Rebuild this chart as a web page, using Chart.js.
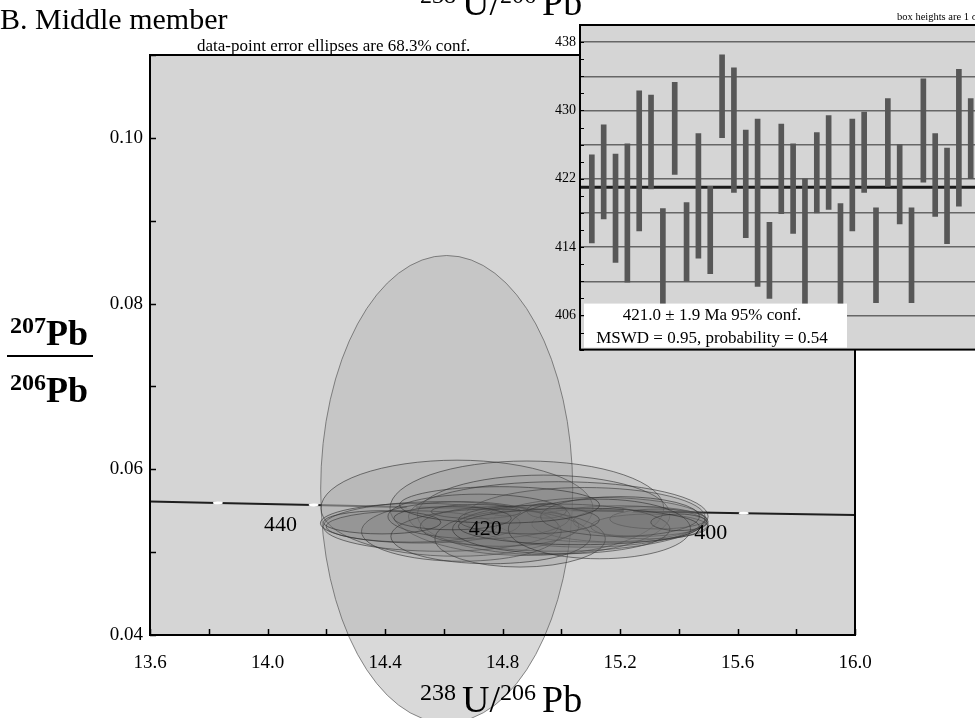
<!DOCTYPE html>
<html>
<head>
<meta charset="utf-8">
<script src="https://cdn.jsdelivr.net/npm/chart.js@4.4.1/dist/chart.umd.min.js"></script>
<style>
  html, body { margin: 0; padding: 0; background: #fff; overflow: hidden; }
  #wrap { position: relative; width: 975px; height: 718px; overflow: hidden; }
  #main { position: absolute; left: 0; top: 0; }
  #inset { position: absolute; left: 540px; top: 0; }
</style>
</head>
<body>
<div id="wrap">
  <canvas id="main" width="975" height="718"></canvas>
  <canvas id="inset" width="470" height="362"></canvas>
</div>
<script>
// ---- concordia plot data ----
const xLabelValues = [13.6, 14.0, 14.4, 14.8, 15.2, 15.6, 16.0];
const yLabelValues = [0.04, 0.06, 0.08, 0.10];

// concordia curve (ages in Ma where marked)
const concordiaX = [13.6, 13.831, 14.157, 14.490, 14.854, 15.229, 15.621, 16.0];
const concordiaY = [0.05612, 0.05594, 0.05569, 0.05541, 0.05519, 0.05494, 0.05470, 0.05447];
const concordiaAge = [null, 450, 440, 430, 420, 410, 400, null];
const labeledAges = [440, 420, 400];

// big ellipse
const bigEllipse = [14.61, 0.0576, 0.429, 0.0282];

// analyses: centre x, centre y, half-width x, half-height y
const ellX  = [14.645, 14.883, 14.94, 15.13, 15.20, 15.27, 15.30, 15.33, 15.08, 14.99, 14.59, 14.52, 14.66, 14.49, 14.72,
               14.79, 14.71, 14.81, 14.95, 14.86, 14.76, 15.00, 15.20, 14.89, 14.63, 14.39, 15.13, 15.40, 15.06, 14.79];
const ellY  = [0.0553, 0.0553, 0.0545, 0.0539, 0.0534, 0.0537, 0.0531, 0.0540, 0.0542, 0.0543, 0.0531, 0.0535, 0.0525, 0.0531, 0.0543,
               0.0531, 0.0549, 0.0548, 0.0550, 0.0516, 0.0519, 0.0528, 0.0543, 0.0539, 0.0541, 0.0536, 0.0528, 0.0536, 0.0531, 0.0557];
const ellRX = [0.463, 0.466, 0.43, 0.36, 0.30, 0.23, 0.20, 0.165, 0.41, 0.51, 0.40, 0.34, 0.34, 0.29, 0.31,
               0.27, 0.153, 0.051, 0.068, 0.29, 0.34, 0.37, 0.27, 0.24, 0.20, 0.20, 0.31, 0.095, 0.41, 0.34];
const ellRY = [0.0058, 0.0057, 0.0048, 0.0027, 0.0022, 0.0018, 0.0015, 0.0012, 0.0036, 0.0042, 0.0030, 0.0024, 0.0036, 0.0019, 0.0027,
               0.0024, 0.00085, 0.00042, 0.0009, 0.0034, 0.0033, 0.0030, 0.0024, 0.0017, 0.0014, 0.0014, 0.0036, 0.0010, 0.0022, 0.0022];

// ---- weighted mean inset data (Ma) ----
const barLow  = [414.5, 417.3, 412.2, 409.9, 415.9, 420.8, 405.5, 422.5, 410.0, 412.7, 410.9, 426.8, 420.4, 415.1, 409.4, 408.0, 417.9,
                 415.6, 405.0, 418.0, 418.4, 405.5, 415.9, 420.4, 407.5, 421.1, 416.7, 407.5, 421.6, 417.6, 414.4, 418.8, 422.0];
const barHigh = [424.8, 428.3, 424.9, 426.1, 432.3, 431.8, 418.5, 433.3, 419.2, 427.3, 421.1, 436.5, 435.0, 427.7, 429.0, 416.9, 428.4,
                 426.1, 422.0, 427.4, 429.4, 419.1, 429.0, 429.8, 418.6, 431.4, 426.0, 418.6, 433.7, 427.3, 425.6, 434.8, 431.4];
const insetLabelValues = [406, 414, 422, 430, 438];
const insetGridValues = [406, 410, 414, 418, 422, 426, 430, 434, 438];
const meanAge = 421.0;
const meanErr = 1.9;
const mswd = 0.95;
const probability = 0.54;

const SERIF = '"Liberation Serif", "Times New Roman", serif';
Chart.defaults.font.family = SERIF;
Chart.defaults.color = '#000';

const near = (v, list) => list.some(t => Math.abs(t - v) < 1e-6);

// draws something like 238U/206Pb
function drawRatio(ctx, x, base, parts, big, small, weight) {
  let cx = x;
  parts.forEach(p => {
    ctx.font = (weight || '') + ' ' + (p.sup ? small : big) + 'px ' + SERIF;
    ctx.fillText(p.t, cx, p.sup ? base - 12 : base);
    cx += ctx.measureText(p.t).width + (p.gap || 0);
  });
}

// concordia plot
const mainDecor = {
  id: 'mainDecor',
  beforeDraw(chart) {
    const {ctx, chartArea: a} = chart;
    ctx.save();
    ctx.fillStyle = '#d5d5d5';
    ctx.fillRect(a.left, a.top, a.right - a.left, a.bottom - a.top);
    ctx.restore();
  },
  afterDatasetsDraw(chart) {
    const {ctx, scales: {x, y}} = chart;
    ctx.save();
    // age marks on the concordia
    concordiaAge.forEach((age, i) => {
      if (age === null) return;
      const px = x.getPixelForValue(concordiaX[i]), py = y.getPixelForValue(concordiaY[i]);
      ctx.beginPath();
      ctx.ellipse(px, py, 5, 1.4, 0, 0, Math.PI * 2);
      ctx.fillStyle = '#fff';
      ctx.fill();
    });
    // error ellipses
    const ell = (cx, cy, rx, ry, fill, stroke) => {
      const px = x.getPixelForValue(cx), py = y.getPixelForValue(cy);
      const prx = Math.abs(x.getPixelForValue(cx + rx) - px);
      const pry = Math.abs(y.getPixelForValue(cy + ry) - py);
      ctx.beginPath();
      ctx.ellipse(px, py, prx, pry, 0, 0, Math.PI * 2);
      ctx.fillStyle = fill;
      ctx.fill();
      ctx.strokeStyle = stroke;
      ctx.lineWidth = 1;
      ctx.stroke();
    };
    ell(bigEllipse[0], bigEllipse[1], bigEllipse[2], bigEllipse[3], 'rgba(185,185,185,0.55)', 'rgba(90,90,90,0.7)');
    for (let i = 0; i < ellX.length; i++) {
      ell(ellX[i], ellY[i], ellRX[i], ellRY[i], 'rgba(115,115,115,0.15)', 'rgba(45,45,45,0.6)');
    }
    // age labels on top
    ctx.fillStyle = '#000';
    ctx.font = '22px ' + SERIF;
    ctx.textAlign = 'center';
    ctx.textBaseline = 'middle';
    concordiaAge.forEach((age, i) => {
      if (!labeledAges.includes(age)) return;
      const px = x.getPixelForValue(concordiaX[i]), py = y.getPixelForValue(concordiaY[i]);
      ctx.fillText(String(age), px - 33, py + 20);
    });
    ctx.restore();
  },
  afterDraw(chart) {
    const {ctx, chartArea: a, scales: {x, y}} = chart;
    ctx.save();
    // inward ticks
    ctx.strokeStyle = '#000';
    ctx.lineWidth = 1.5;
    x.ticks.forEach(t => {
      const px = Math.round(x.getPixelForValue(t.value)) + 0.5;
      ctx.beginPath(); ctx.moveTo(px, a.bottom); ctx.lineTo(px, a.bottom - 6); ctx.stroke();
    });
    y.ticks.forEach(t => {
      const py = Math.round(y.getPixelForValue(t.value)) + 0.5;
      ctx.beginPath(); ctx.moveTo(a.left, py); ctx.lineTo(a.left + 6, py); ctx.stroke();
    });
    // frame
    ctx.lineWidth = 2;
    ctx.strokeRect(a.left, a.top, a.right - a.left, a.bottom - a.top);

    // texts
    ctx.fillStyle = '#000';
    ctx.textAlign = 'left';
    ctx.textBaseline = 'alphabetic';
    ctx.font = '30px ' + SERIF;
    ctx.fillText('B. Middle member', 0, 29);
    ctx.font = '17px ' + SERIF;
    ctx.fillText('data-point error ellipses are 68.3% conf.', 197, 51);

    const ratio = [{t: '238', sup: true, gap: 6}, {t: 'U/'}, {t: '206', sup: true, gap: 6}, {t: 'Pb'}];
    drawRatio(ctx, 420, 15, ratio, 38, 24);
    drawRatio(ctx, 420, 712, ratio, 38, 24);

    drawRatio(ctx, 10, 345, [{t: '207', sup: true}, {t: 'Pb'}], 36, 24, 'bold');
    drawRatio(ctx, 10, 402, [{t: '206', sup: true}, {t: 'Pb'}], 36, 24, 'bold');
    ctx.lineWidth = 2;
    ctx.beginPath(); ctx.moveTo(7, 356); ctx.lineTo(93, 356); ctx.stroke();
    ctx.restore();
  }
};

new Chart(document.getElementById('main'), {
  type: 'scatter',
  data: {
    datasets: [{
      label: 'Concordia',
      data: concordiaX.map((v, i) => ({x: v, y: concordiaY[i]})),
      showLine: true,
      borderColor: '#1e1e1e',
      borderWidth: 2,
      pointRadius: 0
    }]
  },
  options: {
    responsive: false,
    animation: false,
    devicePixelRatio: 1,
    layout: { padding: { left: 0, top: 55, right: 120, bottom: 0 } },
    plugins: { legend: { display: false }, tooltip: { enabled: false } },
    scales: {
      x: {
        type: 'linear',
        min: 13.6,
        max: 16.0,
        grid: { display: false, drawTicks: false },
        border: { display: false },
        ticks: {
          stepSize: 0.2,
          autoSkip: false,
          maxRotation: 0,
          padding: 17,
          z: 1,
          font: { size: 19 },
          callback: (v) => near(v, xLabelValues) ? v.toFixed(1) : ''
        },
        afterFit: (s) => { s.height = 83; }
      },
      y: {
        type: 'linear',
        min: 0.04,
        max: 0.11,
        grid: { display: false, drawTicks: false },
        border: { display: false },
        ticks: {
          stepSize: 0.01,
          autoSkip: false,
          padding: 7,
          z: 1,
          font: { size: 19 },
          callback: (v) => near(v, yLabelValues) ? v.toFixed(2) : ''
        },
        afterFit: (s) => { s.width = 150; }
      }
    }
  },
  plugins: [mainDecor]
});

// weighted mean inset
const insetDecor = {
  id: 'insetDecor',
  beforeDraw(chart) {
    const {ctx, chartArea: a} = chart;
    ctx.save();
    ctx.fillStyle = '#d5d5d5';
    ctx.fillRect(a.left, a.top, a.right - a.left, a.bottom - a.top);
    ctx.restore();
  },
  beforeDatasetsDraw(chart) {
    const {ctx, chartArea: a, scales: {y}} = chart;
    const py = y.getPixelForValue(meanAge);
    ctx.save();
    ctx.strokeStyle = '#1a1a1a';
    ctx.lineWidth = 3;
    ctx.beginPath(); ctx.moveTo(a.left, py); ctx.lineTo(a.right, py); ctx.stroke();
    ctx.restore();
  },
  afterDatasetsDraw(chart) {
    const {ctx, chartArea: a, scales: {y}} = chart;
    ctx.save();
    // inward ticks
    ctx.strokeStyle = '#000';
    ctx.lineWidth = 1;
    y.ticks.forEach(t => {
      const py = Math.round(y.getPixelForValue(t.value)) + 0.5;
      ctx.beginPath(); ctx.moveTo(a.left, py); ctx.lineTo(a.left + 4, py); ctx.stroke();
    });
    // result box
    const bx = a.left + 4, by = a.bottom - 46;
    ctx.fillStyle = '#fff';
    ctx.fillRect(bx, by, 263, 44);
    ctx.fillStyle = '#000';
    ctx.textAlign = 'center';
    ctx.textBaseline = 'alphabetic';
    ctx.font = '17px ' + SERIF;
    ctx.fillText(meanAge.toFixed(1) + ' \u00b1 ' + meanErr.toFixed(1) + ' Ma 95% conf.', bx + 128, by + 16);
    ctx.fillText('MSWD = ' + mswd.toFixed(2) + ', probability = ' + probability.toFixed(2), bx + 128, by + 39);
    // frame
    ctx.lineWidth = 2;
    ctx.strokeRect(a.left, a.top, a.right - a.left, a.bottom - a.top);
    // note
    ctx.textAlign = 'left';
    ctx.font = '10.5px ' + SERIF;
    ctx.fillText('box heights are 1 \u03c3', 357, 20);
    ctx.restore();
  }
};

new Chart(document.getElementById('inset'), {
  type: 'bar',
  data: {
    datasets: [{
      label: 'Ages',
      data: barLow.map((lo, i) => ({x: i, y: [lo, barHigh[i]]})),
      backgroundColor: '#575757',
      borderWidth: 0,
      barThickness: 5,
      grouped: false
    }]
  },
  options: {
    responsive: false,
    animation: false,
    devicePixelRatio: 1,
    layout: { padding: { left: 0, top: 25, right: 15.6, bottom: 3 } },
    plugins: { legend: { display: false }, tooltip: { enabled: false } },
    scales: {
      x: { type: 'linear', min: -1, max: 34, offset: false, display: false },
      y: {
        min: 402,
        max: 440,
        border: { display: false },
        grid: {
          drawTicks: false,
          tickLength: 0,
          lineWidth: 1.5,
          color: (c) => (c.tick && near(c.tick.value, insetGridValues)) ? '#666' : 'rgba(0,0,0,0)'
        },
        ticks: {
          stepSize: 2,
          autoSkip: false,
          padding: 4,
          font: { size: 14 },
          callback: (v) => near(v, insetLabelValues) ? String(v) : ''
        },
        afterFit: (s) => { s.width = 40; }
      }
    }
  },
  plugins: [insetDecor]
});
</script>
</body>
</html>
